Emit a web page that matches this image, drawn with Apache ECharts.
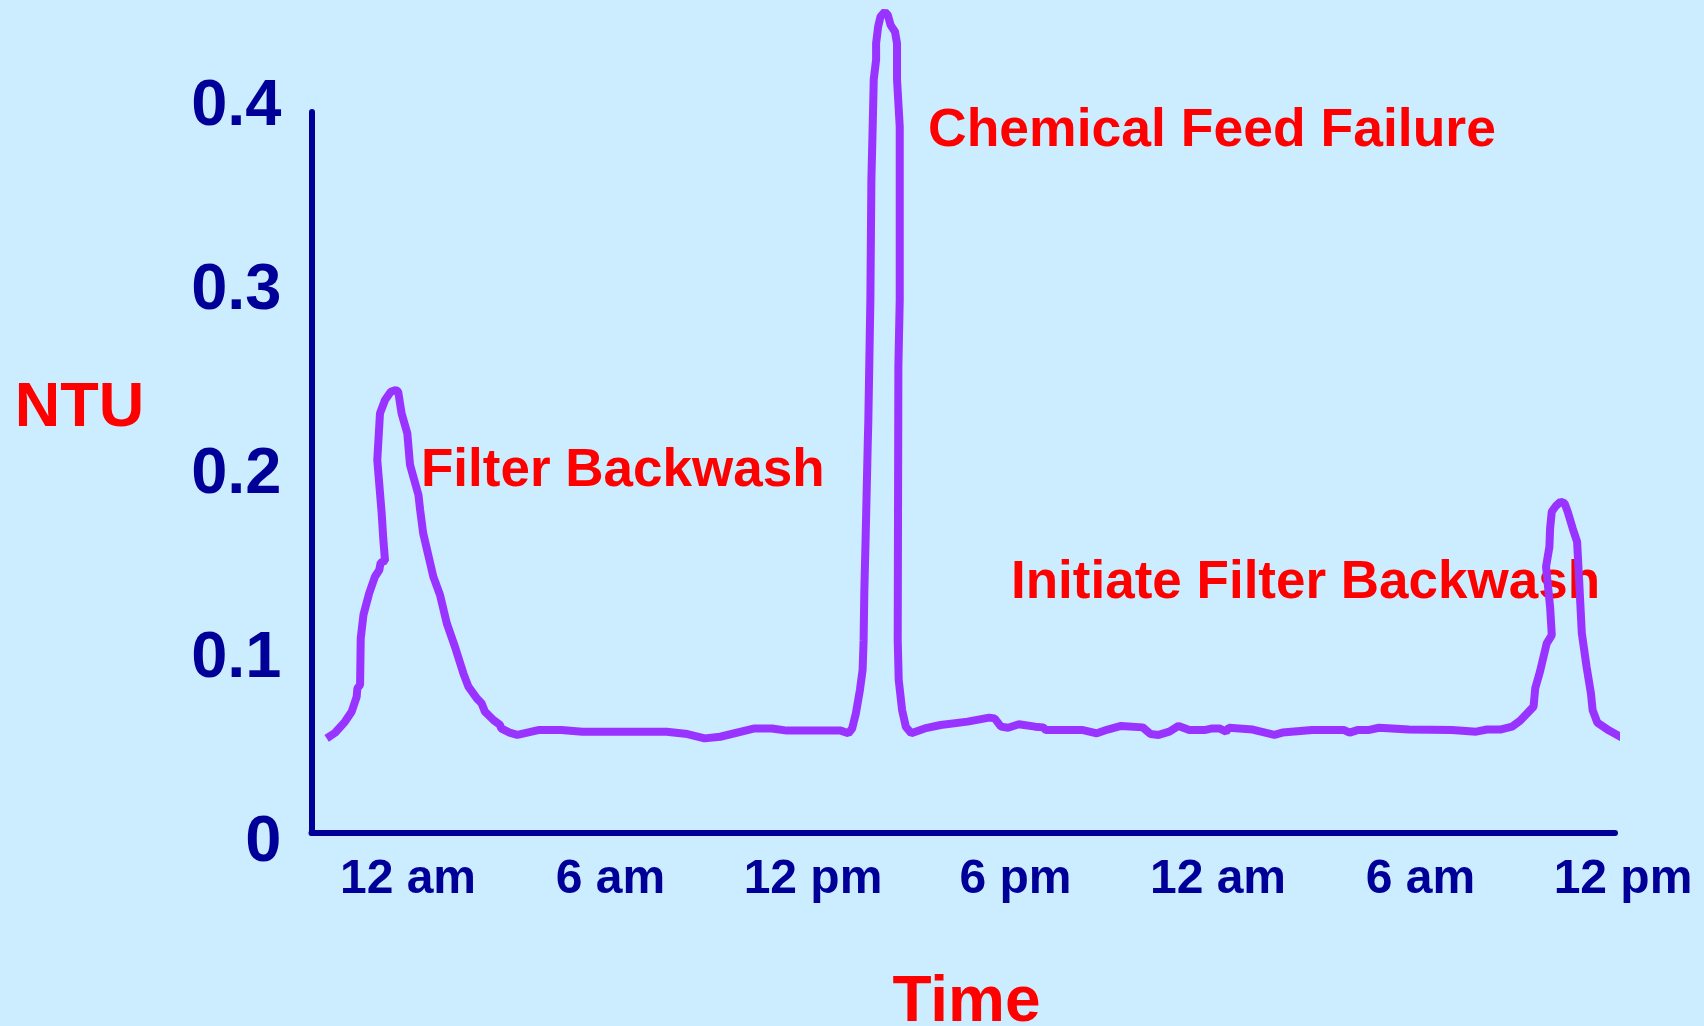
<!DOCTYPE html>
<html>
<head>
<meta charset="utf-8">
<script src="https://cdn.jsdelivr.net/npm/echarts@6/dist/echarts.min.js"></script>
<style>
  html, body { margin: 0; padding: 0; background: #CCECFF; }
  #chart { width: 1704px; height: 1026px; }
</style>
</head>
<body>
<div id="chart"></div>
<script>
// Time in hours after the first "12 am"
const hours = [
  -2.41, -2.16, -1.87, -1.67, -1.52, -1.50, -1.42, -1.40, -1.32, -1.15,
  -0.98, -0.85, -0.81, -0.68, -0.73, -0.78, -0.91, -0.83, -0.68, -0.51,
  -0.36, -0.29, -0.19, -0.02, 0.06, 0.31, 0.36, 0.45, 0.75, 0.95,
  1.15, 1.39, 1.64, 1.79, 2.04, 2.18, 2.28, 2.53, 2.73, 2.76,
  3.01, 3.24, 3.86, 4.54, 5.17, 7.66, 8.28, 8.79, 9.25, 10.27,
  10.78, 11.23, 12.82, 13.05, 13.16, 13.27, 13.39, 13.47, 13.50, 13.52,
  13.56, 13.62, 13.64, 13.70, 13.73, 13.77, 13.80, 13.87, 13.87, 13.93,
  14.00, 14.13, 14.22, 14.30, 14.43, 14.49, 14.49, 14.57, 14.57, 14.53,
  14.51, 14.54, 14.64, 14.75, 14.91, 15.31, 15.78, 16.58, 17.22, 17.38,
  17.57, 17.78, 18.10, 18.58, 18.82, 18.90, 20.00, 20.41, 20.73, 21.13,
  21.77, 22.00, 22.24, 22.56, 22.83, 23.15, 23.60, 23.83, 24.04, 24.24,
  24.32, 25.03, 25.67, 25.91, 26.79, 27.74, 27.90, 28.13, 28.45, 28.77,
  29.66, 30.93, 31.65, 31.97, 32.36, 32.71, 32.95, 33.35, 33.40, 33.54,
  33.74, 33.89, 33.84, 33.72, 33.82, 33.84, 33.89, 34.01, 34.15, 34.27,
  34.36, 34.51, 34.64, 34.70, 34.78, 34.92, 35.05, 35.10, 35.24, 35.59,
  35.95, 36.04
];
// Turbidity (NTU)
const ntu = [
  0.0525, 0.0556, 0.0617, 0.0673, 0.0756, 0.0803, 0.0821, 0.108, 0.121, 0.133,
  0.1422, 0.1459, 0.150, 0.151, 0.1626, 0.1774, 0.2069, 0.2328, 0.2402, 0.2448,
  0.2458, 0.2448, 0.2328, 0.2217, 0.2042, 0.1875, 0.1792, 0.1663, 0.1422, 0.132,
  0.1163, 0.1034, 0.0886, 0.0812, 0.0747, 0.072, 0.0673, 0.0627, 0.0599, 0.058,
  0.0557, 0.0544, 0.0571, 0.0571, 0.0562, 0.0562, 0.0549, 0.0525, 0.0534, 0.058,
  0.058, 0.0568, 0.0568, 0.0553, 0.058, 0.0663, 0.0793, 0.0904, 0.107, 0.133,
  0.164, 0.214, 0.229, 0.2957, 0.362, 0.393, 0.418, 0.429, 0.438, 0.4473,
  0.4529, 0.4556, 0.4537, 0.4482, 0.4445, 0.438, 0.418, 0.392, 0.2957, 0.2587,
  0.107, 0.0849, 0.0682, 0.059, 0.0553, 0.058, 0.0599, 0.0618, 0.064, 0.0636,
  0.059, 0.0584, 0.0603, 0.059, 0.0586, 0.0571, 0.0571, 0.0553, 0.0574, 0.0594,
  0.0586, 0.0549, 0.0544, 0.0562, 0.0594, 0.0571, 0.0571, 0.058, 0.058, 0.0562,
  0.0584, 0.0574, 0.0544, 0.0557, 0.0571, 0.0571, 0.0557, 0.0571, 0.0571, 0.0584,
  0.0574, 0.0571, 0.0562, 0.0574, 0.0574, 0.059, 0.0623, 0.0701, 0.0803, 0.0895,
  0.1052, 0.1098, 0.1255, 0.1477, 0.1588, 0.169, 0.1783, 0.1814, 0.1838, 0.1829,
  0.1783, 0.169, 0.1616, 0.1404, 0.1108, 0.0923, 0.0775, 0.0682, 0.0612, 0.0568,
  0.0531, 0.0553
];
const xTickValues = [0, 6, 12, 18, 24, 30, 36];
const xTickLabels = ['12 am', '6 am', '12 pm', '6 pm', '12 am', '6 am', '12 pm'];
const yTickValues = [0, 0.1, 0.2, 0.3, 0.4];
const yTickLabels = ['0', '0.1', '0.2', '0.3', '0.4'];
const annotations = [
  { text: 'Chemical Feed Failure', x: 928, y: 131.5 },
  { text: 'Filter Backwash', x: 421, y: 471.5 },
  { text: 'Initiate Filter Backwash', x: 1011, y: 583.5 }
];

const NAVY = '#000099';
const RED = '#FF0000';
const FONT = '"Liberation Sans", Arial, Helvetica, sans-serif';

const chart = echarts.init(document.getElementById('chart'), null, { renderer: 'canvas' });

const X_MIN = -2.859;
const PX_PER_HOUR = 33.75;
const grid0 = { left: 311.5, top: 112, width: 1303.5, height: 721 };
const grid1 = { left: 311.5, top: 107, width: 1311.5, height: 736.5 };

const option = {
  backgroundColor: '#CCECFF',
  animation: false,
  grid: [
    Object.assign({ outerBoundsMode: 'none', containLabel: false }, grid0),
    Object.assign({ outerBoundsMode: 'none', containLabel: false }, grid1)
  ],
  xAxis: [
    {
      type: 'value', gridIndex: 0,
      min: X_MIN, max: X_MIN + grid0.width / PX_PER_HOUR,
      axisLine: { show: true, onZero: false, lineStyle: { color: NAVY, width: 6 } },
      axisTick: { show: false }, axisLabel: { show: false }, splitLine: { show: false }
    },
    {
      type: 'value', gridIndex: 1,
      min: X_MIN, max: 36,
      axisLine: { show: false, onZero: false },
      axisTick: { show: false }, splitLine: { show: false },
      axisLabel: {
        show: true, customValues: xTickValues,
        margin: 36, verticalAlign: 'middle',
        color: NAVY, fontFamily: FONT, fontWeight: 'bold', fontSize: 48,
        formatter: v => xTickLabels[xTickValues.indexOf(v)]
      }
    }
  ],
  yAxis: [
    {
      type: 'value', gridIndex: 0, min: 0, max: 0.4,
      axisLine: { show: true, onZero: false, lineStyle: { color: NAVY, width: 6 } },
      axisTick: { show: false }, axisLabel: { show: false }, splitLine: { show: false }
    },
    {
      type: 'value', gridIndex: 1, min: 0, max: 0.4,
      axisLine: { show: false, onZero: false },
      axisTick: { show: false }, splitLine: { show: false },
      axisLabel: {
        show: true, customValues: yTickValues, margin: 30,
        color: NAVY, fontFamily: FONT, fontWeight: 'bold', fontSize: 65,
        formatter: v => yTickLabels[yTickValues.indexOf(v)]
      }
    }
  ],
  series: [
    {
      type: 'line', xAxisIndex: 0, yAxisIndex: 0,
      data: hours.map((h, i) => [h, ntu[i]]),
      showSymbol: false, symbol: 'none', clip: false, smooth: false,
      itemStyle: { color: '#9933FF' },
      lineStyle: { color: '#9933FF', width: 8 },
      emphasis: { disabled: true },
      z: 5
    }
  ],
  graphic: [
    {
      type: 'text', z: 1,
      style: { text: 'NTU', x: 79.5, y: 409, fill: RED,
        font: 'bold 63px ' + FONT, align: 'center', verticalAlign: 'middle',
        textAlign: 'center', textVerticalAlign: 'middle' }
    },
    {
      type: 'text', z: 1,
      style: { text: 'Time', x: 966.5, y: 1003, fill: RED,
        font: 'bold 64px ' + FONT, align: 'center', verticalAlign: 'middle',
        textAlign: 'center', textVerticalAlign: 'middle' }
    }
  ].concat(annotations.map((a, i) => ({
    type: 'text', z: 1,
    style: { text: a.text, x: a.x, y: a.y, fill: RED,
      font: 'bold ' + (i === 0 ? 53.5 : 53) + 'px ' + FONT, align: 'left', verticalAlign: 'middle',
      textAlign: 'left', textVerticalAlign: 'middle' }
  })))
};

chart.setOption(option);
</script>
</body>
</html>
